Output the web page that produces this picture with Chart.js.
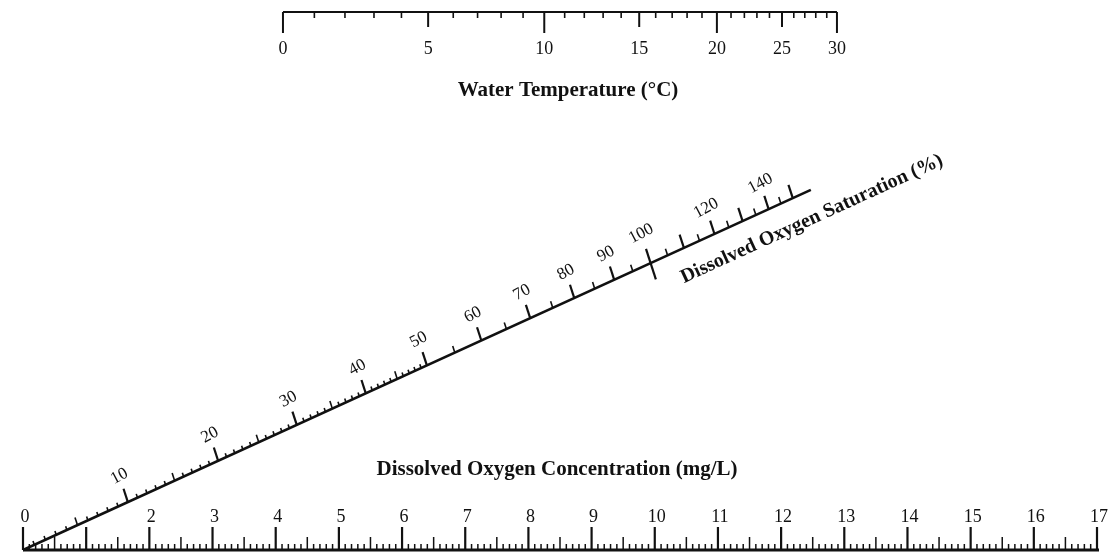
<!DOCTYPE html>
<html>
<head>
<meta charset="utf-8">
<title>Dissolved oxygen nomogram</title>
<script src="https://cdn.jsdelivr.net/npm/chart.js@4.4.1/dist/chart.umd.min.js"></script>
<style>
  html, body { margin: 0; padding: 0; background: #fff; }
  canvas { display: block; }
</style>
</head>
<body>
<canvas id="nomogram" width="1110" height="560"></canvas>
<script>
// Dissolved oxygen concentration scale (mg/L)
const concTicks = [0, 1, 2, 3, 4, 5, 6, 7, 8, 9, 10, 11, 12, 13, 14, 15, 16, 17];
const concLabels = ['0', '', '2', '3', '4', '5', '6', '7', '8', '9', '10', '11', '12', '13', '14', '15', '16', '17'];

// Water temperature scale: every degree sits at its oxygen solubility (mg/L at 100 % saturation)
const tempDegrees = [0, 1, 2, 3, 4, 5, 6, 7, 8, 9, 10, 11, 12, 13, 14, 15,
                     16, 17, 18, 19, 20, 21, 22, 23, 24, 25, 26, 27, 28, 29, 30];
const tempSolubility = [14.62, 14.22, 13.83, 13.46, 13.11, 12.77, 12.45, 12.14, 11.84, 11.56,
                        11.29, 11.03, 10.78, 10.54, 10.31, 10.08, 9.87, 9.66, 9.47, 9.28,
                        9.09, 8.91, 8.74, 8.58, 8.42, 8.26, 8.11, 7.97, 7.83, 7.69, 7.56];
const tempLabels = [0, 5, 10, 15, 20, 25, 30];

// Saturation scale (%)
const satLabels = [10, 20, 30, 40, 50, 60, 70, 80, 90, 100, 120, 140];
const satLong = [110, 130, 150];     // long ticks without a number
const satFineUntil = 50;             // 1 % ticks up to here, 5 % ticks above
const satEnd = 158;                  // where the slanted line stops

const INK = '#111';
const SERIF = '"Liberation Serif", "DejaVu Serif", serif';
const satAngle = Math.atan(0.457);          // slope of the saturation line
const tickLean = 18 * Math.PI / 180;        // slanted-scale ticks lean a bit off vertical
const labelTurn = -28 * Math.PI / 180;

function seg(ctx, x1, y1, x2, y2) {
    ctx.beginPath();
    ctx.moveTo(x1, y1);
    ctx.lineTo(x2, y2);
    ctx.stroke();
}

// A saturation value lies where every temperature/concentration line for it crosses
function satPixel(chart, pct) {
    const xs = chart.scales.x, sol = chart.scales.sol, ys = chart.scales.y;
    const x0 = xs.getPixelForValue(0);
    const s0 = sol.getPixelForValue(0);
    const b = xs.getPixelForValue(1) - x0;
    const a = Math.abs(sol.getPixelForValue(1) - s0);
    const f = b * pct / (100 * a + b * pct);
    const px = x0 + f * (s0 - x0);
    return { x: px, y: ys.getPixelForValue(0) - (px - x0) * Math.tan(satAngle) };
}

const nomogramPlugin = {
    id: 'nomogram',
    afterDraw(chart) {
        const ctx = chart.ctx;
        const xs = chart.scales.x, ys = chart.scales.y, sol = chart.scales.sol;
        ctx.save();
        ctx.strokeStyle = INK;
        ctx.fillStyle = INK;
        ctx.textAlign = 'center';
        ctx.textBaseline = 'middle';

        // Concentration axis along the bottom, ticks and numbers above it
        const base = ys.getPixelForValue(0);
        ctx.lineWidth = 3;
        seg(ctx, xs.getPixelForValue(0), base, xs.getPixelForValue(17) + 2, base);
        for (let i = 0; i <= 170; i++) {
            const len = i % 10 === 0 ? 23 : (i % 5 === 0 ? 13 : 6);
            const px = xs.getPixelForValue(i / 10);
            ctx.lineWidth = i % 10 === 0 ? 2.2 : 1.5;
            seg(ctx, px, base, px, base - len);
        }
        ctx.font = '18px ' + SERIF;
        concTicks.forEach((v, i) => {
            ctx.fillText(concLabels[i], xs.getPixelForValue(v) + 2, base - 33);
        });
        ctx.font = 'bold 21px ' + SERIF;
        ctx.fillText('Dissolved Oxygen Concentration (mg/L)', 557, base - 80);

        // Temperature axis along the top, ticks and numbers below it
        const top = ys.getPixelForValue(1);
        ctx.lineWidth = 1.8;
        seg(ctx, sol.getPixelForValue(tempSolubility[0]), top,
            sol.getPixelForValue(tempSolubility[tempSolubility.length - 1]), top);
        tempDegrees.forEach((t, i) => {
            const len = t % 10 === 0 ? 21 : (t % 5 === 0 ? 15 : 6);
            const px = sol.getPixelForValue(tempSolubility[i]);
            ctx.lineWidth = t % 5 === 0 ? 2 : 1.6;
            seg(ctx, px, top, px, top + len);
        });
        ctx.font = '18px ' + SERIF;
        tempLabels.forEach(t => {
            const i = tempDegrees.indexOf(t);
            ctx.fillText(String(t), sol.getPixelForValue(tempSolubility[i]), top + 37);
        });
        ctx.font = 'bold 21px ' + SERIF;
        ctx.fillText('Water Temperature (\u00B0C)', 568, top + 79);

        // Slanted saturation scale
        const p0 = satPixel(chart, 0), pEnd = satPixel(chart, satEnd);
        ctx.lineWidth = 2.5;
        seg(ctx, p0.x, p0.y, pEnd.x, pEnd.y);
        const dx = -Math.sin(tickLean), dy = -Math.cos(tickLean);
        const satTicks = [];
        for (let s = 1; s <= satFineUntil; s++) satTicks.push(s);
        for (let s = satFineUntil + 5; s <= 150; s += 5) satTicks.push(s);
        satTicks.forEach(s => {
            const p = satPixel(chart, s);
            let len;
            if (s % 10 === 0 && (satLabels.includes(s) || satLong.includes(s))) len = 14;
            else if (s <= satFineUntil) len = s % 5 === 0 ? 8 : 4;
            else len = 7;
            ctx.lineWidth = len >= 14 ? 2.2 : 1.6;
            if (s === 100) {
                seg(ctx, p.x - dx * 17, p.y - dy * 17, p.x + dx * 15, p.y + dy * 15);
            } else {
                seg(ctx, p.x, p.y, p.x + dx * len, p.y + dy * len);
            }
        });
        ctx.font = '17px ' + SERIF;
        satLabels.forEach(s => {
            const p = satPixel(chart, s);
            const off = s === 100 ? 31 : 27;
            ctx.save();
            ctx.translate(p.x + dx * off, p.y + dy * off);
            ctx.rotate(labelTurn);
            ctx.fillText(String(s), 0, 0);
            ctx.restore();
        });

        // Scale title runs along the line, just past the 100 % mark
        const p100 = satPixel(chart, 100);
        const ux = Math.cos(satAngle), uy = -Math.sin(satAngle);
        ctx.save();
        ctx.translate(p100.x + ux * 22 + Math.sin(satAngle) * 32,
                      p100.y + uy * 22 + Math.cos(satAngle) * 32);
        ctx.rotate(-satAngle);
        ctx.textAlign = 'left';
        ctx.textBaseline = 'alphabetic';
        ctx.font = 'bold 20px ' + SERIF;
        ctx.fillText('Dissolved Oxygen Saturation (%)', 0, 0);
        ctx.restore();

        ctx.restore();
    }
};

const chart = new Chart(document.getElementById('nomogram'), {
    type: 'scatter',
    data: { datasets: [] },
    options: {
        responsive: false,
        animation: false,
        devicePixelRatio: 1,
        layout: { padding: { left: 23, right: 13, top: 12, bottom: 10 } },
        plugins: { legend: { display: false }, tooltip: { enabled: false } },
        scales: {
            x: { type: 'linear', min: 0, max: 17, display: false },
            y: { type: 'linear', min: 0, max: 1, display: false },
            // solubility (mg/L) behind the temperature ticks, running right to left
            sol: { type: 'linear', axis: 'x', reverse: true, min: 4.246, max: 17.933, display: false }
        }
    },
    plugins: [nomogramPlugin]
});
</script>
</body>
</html>
